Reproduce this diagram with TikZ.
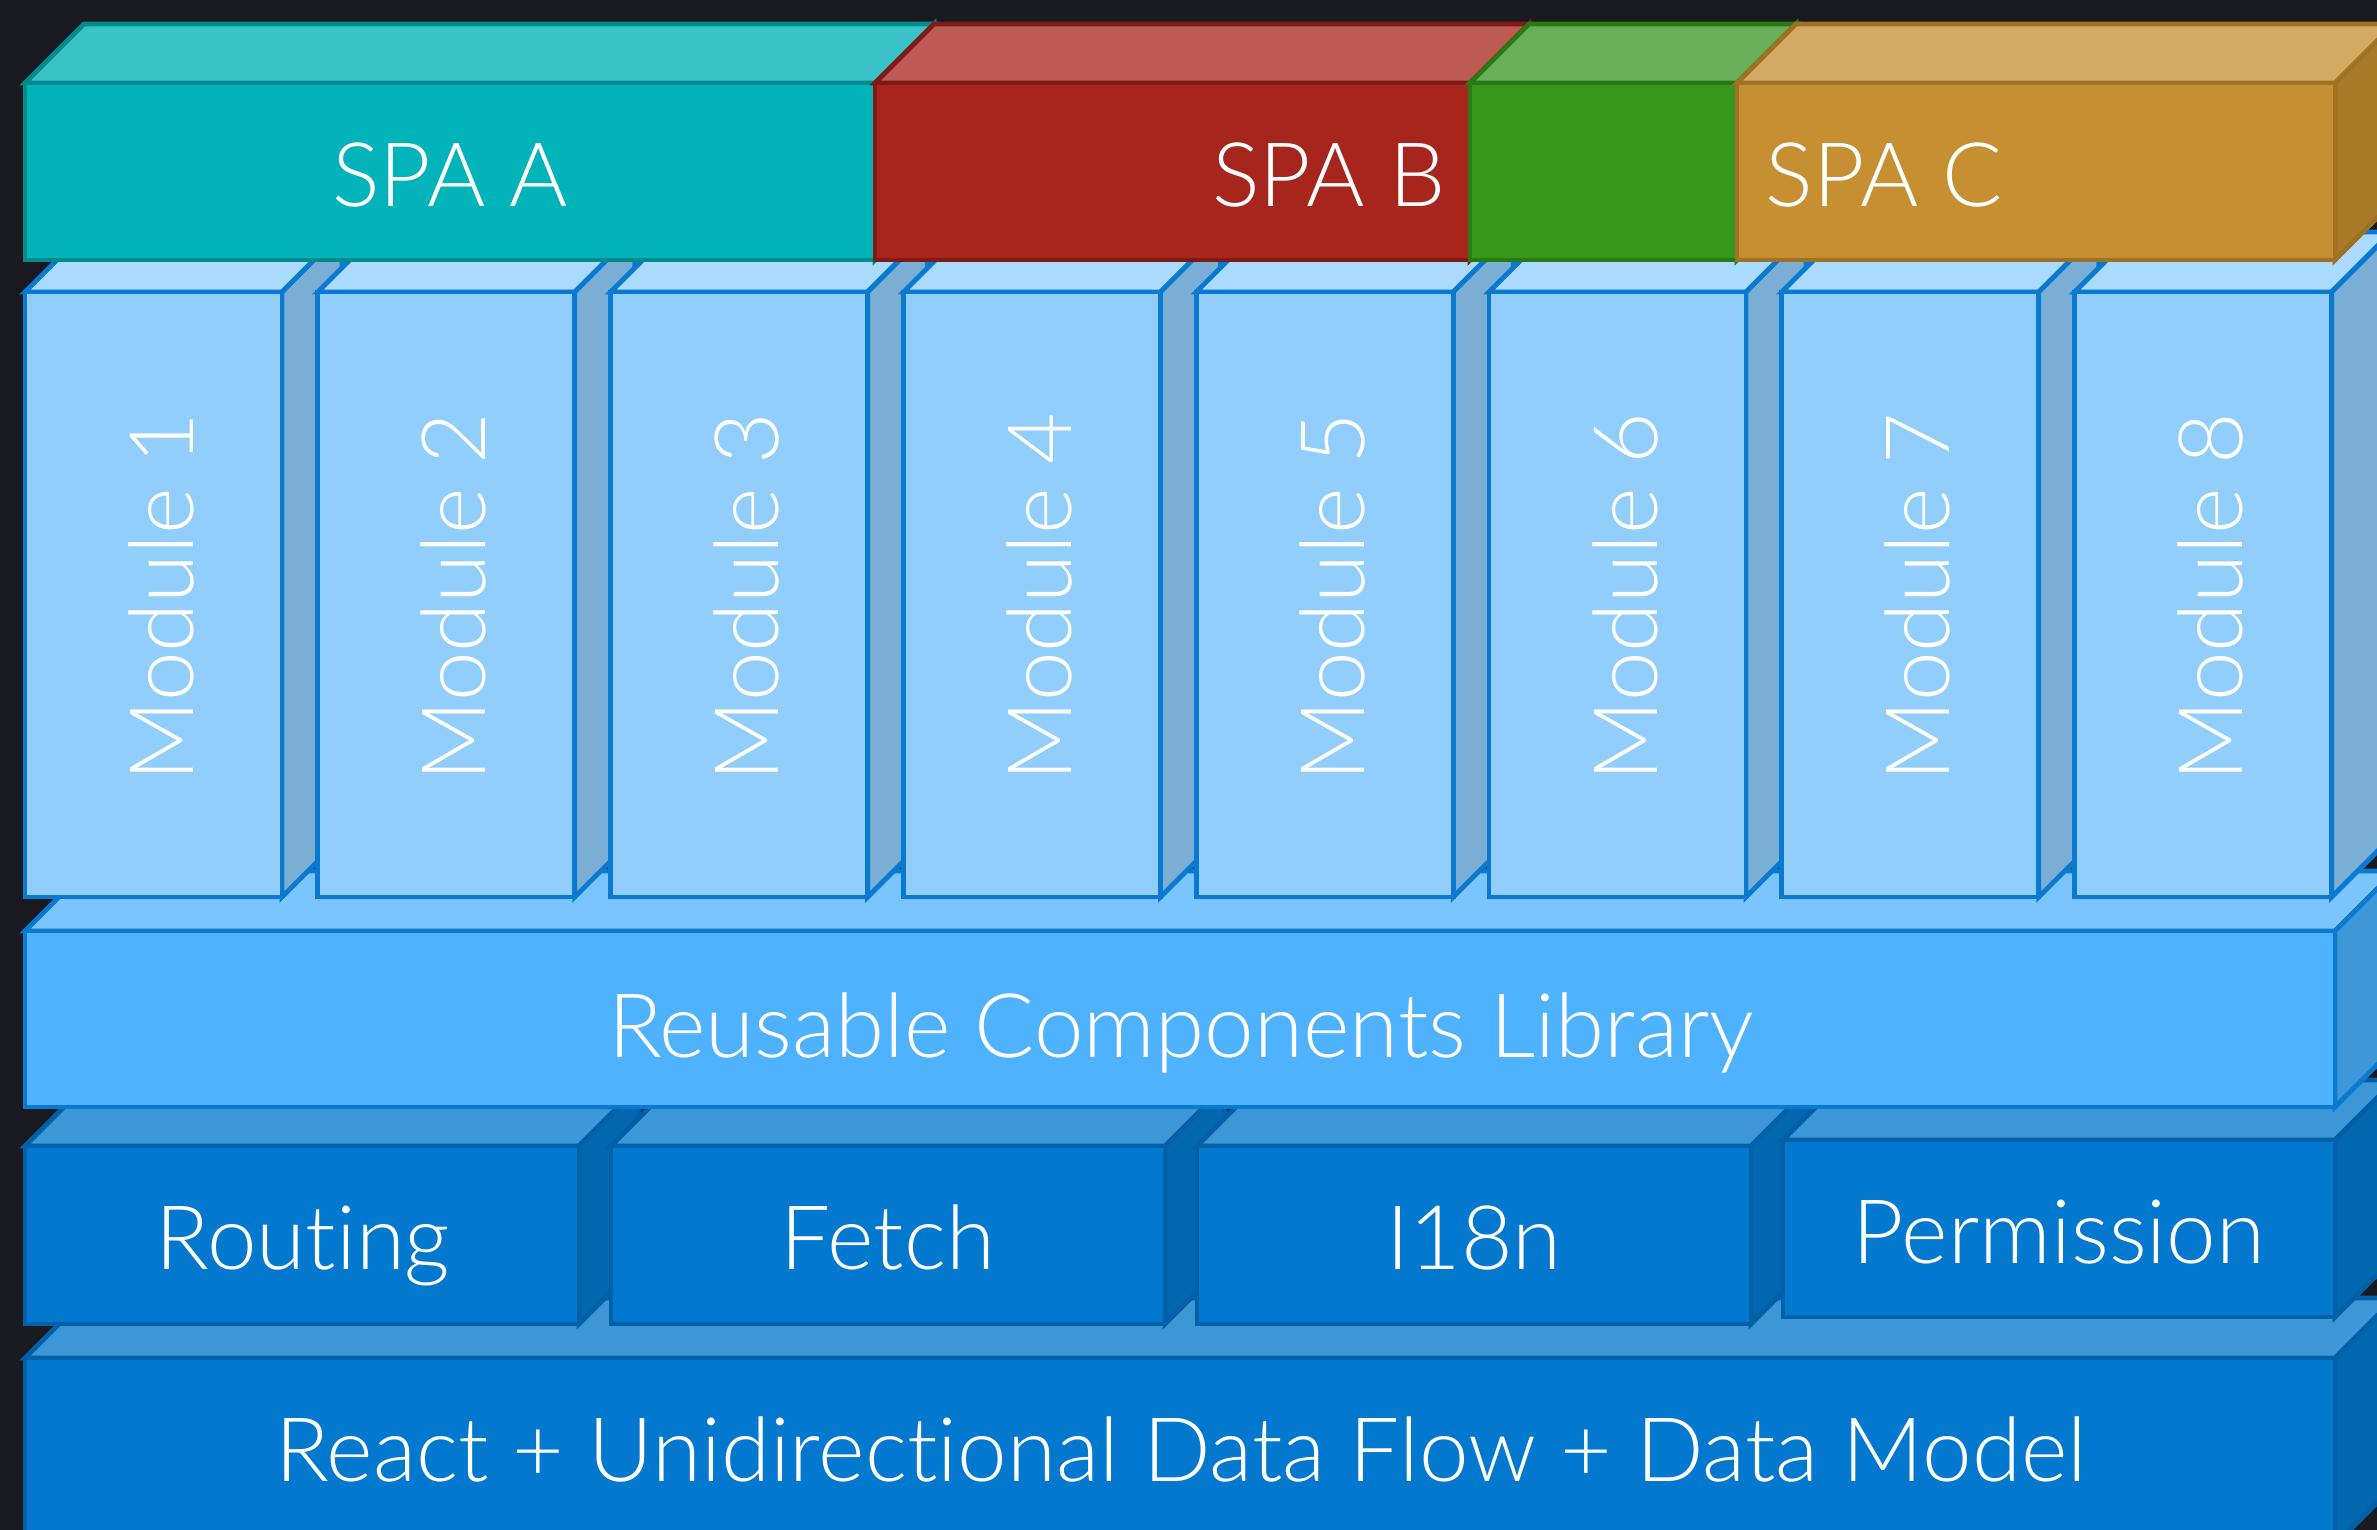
\documentclass[tikz,border=0pt]{standalone}
\usepackage{fontspec}
\IfFontExistsTF{Lato Light}%
  {\setmainfont{Lato Light}[Ligatures={NoCommon,NoRare},Contextuals=NoAlternate]}%
  {\setmainfont{Lato}[Ligatures={NoCommon,NoRare},Contextuals=NoAlternate]}

% palette
\definecolor{bg}{HTML}{191920}
\definecolor{aF}{HTML}{02B3B9}\definecolor{aT}{HTML}{39C3C6}\definecolor{aB}{HTML}{018B8B}
\definecolor{bF}{HTML}{A6261E}\definecolor{bT}{HTML}{BD5B56}\definecolor{bB}{HTML}{801A14}
\definecolor{gF}{HTML}{39961D}\definecolor{gT}{HTML}{69AE58}\definecolor{gB}{HTML}{287A12}
\definecolor{cF}{HTML}{C69032}\definecolor{cT}{HTML}{D4A964}\definecolor{cS}{HTML}{A87A2A}\definecolor{cB}{HTML}{9E7125}
\definecolor{mF}{HTML}{91CEFC}\definecolor{mT}{HTML}{AADAFE}\definecolor{mS}{HTML}{7AAED5}\definecolor{mB}{HTML}{0A79D0}
\definecolor{rF}{HTML}{4EB2FE}\definecolor{rT}{HTML}{7BC5FE}\definecolor{rS}{HTML}{3E98D8}
\definecolor{dF}{HTML}{0278CE}\definecolor{dT}{HTML}{3D97D6}\definecolor{dS}{HTML}{0167AE}\definecolor{dB}{HTML}{0260A8}

% oblique block: x1, y1 (top), x2, y2 (bottom), depth, front, top, side, border
\newcommand\cuboid[9]{%
  \filldraw[fill=#7,draw=#9] (#1,#2) -- ++(#5,-#5) -- ++(#3-#1,0) -- (#3,#2) -- cycle;
  \filldraw[fill=#8,draw=#9] (#3,#2) -- ++(#5,-#5) -- ++(0,#4-#2) -- (#3,#4) -- cycle;
  \filldraw[fill=#6,draw=#9] (#1,#2) rectangle (#3,#4);
}

\begin{document}
\begin{tikzpicture}[x=0.5pt,y=-0.5pt,line width=2.4pt,line join=miter,
  lbl/.style={text=white,font=\fontsize{44.5}{44.5}\selectfont,inner sep=0pt}]
\fill[bg] (0,0) rectangle (2377,1530);
\useasboundingbox (0,0) rectangle (2377,1530);
\clip (0,0) rectangle (2377,1530);

% base layer
\cuboid{25}{1358}{2335}{1545}{60}{dF}{dT}{dS}{dB}
\node[lbl,anchor=base] (react) at (1181,1481) {React + Unidirectional Data Flow + Data Model};

% services row
\cuboid{25}{1146}{579}{1324}{60}{dF}{dT}{dS}{dB}
\cuboid{611}{1146}{1165}{1324}{60}{dF}{dT}{dS}{dB}
\cuboid{1197}{1146}{1751}{1324}{60}{dF}{dT}{dS}{dB}
\cuboid{1783}{1140}{2335}{1317}{60}{dF}{dT}{dS}{dB}
\node[lbl,anchor=base] (routing) at (303,1269) {Routing};
\node[lbl,anchor=base] (fetch) at (888,1269) {Fetch};
\node[lbl,anchor=base] (i18n) at (1474,1269) {I18n};
\node[lbl,anchor=base] (perm) at (2059,1263) {Permission};

% component library
\cuboid{25}{931}{2335}{1107}{60}{rF}{rT}{rS}{mB}
\node[lbl,anchor=base] (reuse) at (1181,1057) {Reusable Components Library};

% modules
\foreach \i [count=\n] in {0,...,7}{
  \pgfmathsetmacro\xl{25+292.8*\i}
  \pgfmathsetmacro\xr{\xl+257}
  \cuboid{\xl}{292}{\xr}{897}{60}{mF}{mT}{mS}{mB}
  \node[lbl,rotate=90,anchor=base] (mod\n) at (\xl+168,597) {Module \n};
}

% single page apps
\cuboid{25}{83}{875}{260}{59}{aF}{aT}{aB}{aB}
\cuboid{875}{83}{1470}{260}{59}{bF}{bT}{bB}{bB}
\cuboid{1470}{83}{1737}{260}{59}{gF}{gT}{gB}{gB}
\cuboid{1737}{83}{2335}{260}{59}{cF}{cT}{cS}{cB}
\node[lbl,anchor=base] (spaa) at (450,207) {SPA A};
\node[lbl,anchor=base east] (spab) at (1448,207) {SPA B};
\node[lbl,anchor=base west] (spac) at (1763,207) {SPA C};
\end{tikzpicture}
\end{document}
